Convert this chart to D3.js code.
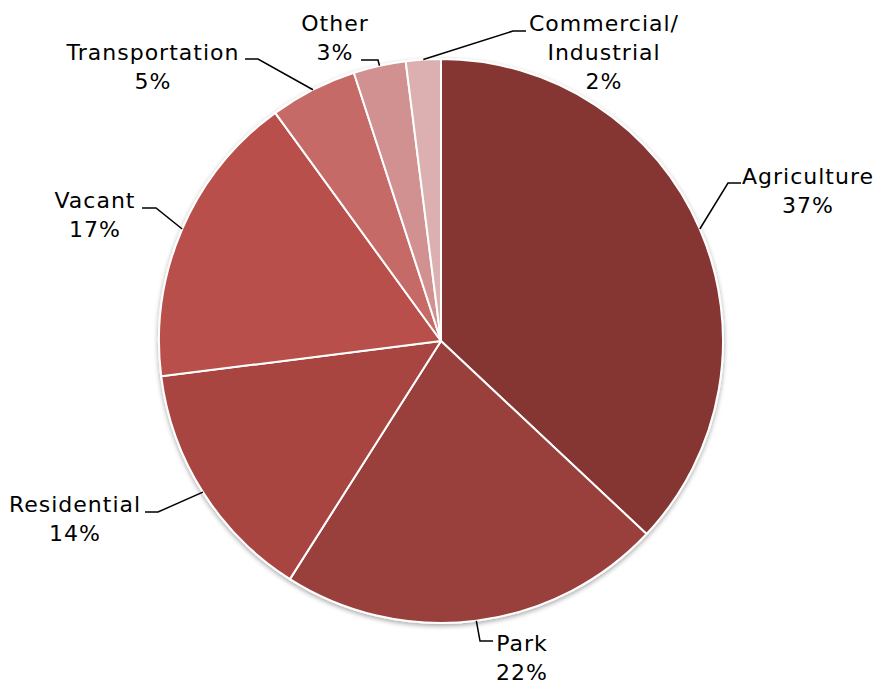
<!DOCTYPE html>
<html>
<head>
<meta charset="utf-8">
<script src="https://cdn.jsdelivr.net/npm/d3@7"></script>
<style>
  html, body { margin: 0; padding: 0; background: #fff; }
  svg { display: block; }
  text { font-family: "DejaVu Sans", Verdana, sans-serif; font-size: 22px; letter-spacing: 1px; fill: #000; }
</style>
</head>
<body>
<svg id="chart" width="877" height="685"></svg>
<script>
// Land use shares (percent), clockwise from 12 o'clock
const categories = ["Agriculture", "Park", "Residential", "Vacant", "Transportation", "Other", "Commercial/\nIndustrial"];
const shares = [37, 22, 14, 17, 5, 3, 2];
const colors = ["#853533", "#993f3c", "#a84441", "#b94f4c", "#c66a67", "#d19190", "#dcb0b0"];

// Label placement: text centre x, first baseline y, leader elbow and leader end
const labelLayout = [
  { tx: 808, ty: 184, elbow: [728, 183], end: [741, 183] },
  { tx: 522, ty: 651, elbow: [480, 641], end: [493, 641] },
  { tx: 75,  ty: 512, elbow: [158, 512], end: [145, 512] },
  { tx: 95,  ty: 208, elbow: [156, 208], end: [142, 208] },
  { tx: 153, ty: 60,  elbow: [258, 59],  end: [245, 59] },
  { tx: 335, ty: 31,  elbow: [378, 60],  end: [361, 60] },
  { tx: 604, ty: 31,  elbow: [513, 31],  end: [526, 31] }
];

const svg = d3.select("#chart");
const cx = 441, cy = 341, r = 282;

const defs = svg.append("defs");
const shadow = defs.append("filter").attr("id", "soft").attr("x", "-10%").attr("y", "-10%").attr("width", "120%").attr("height", "120%");
shadow.append("feGaussianBlur").attr("in", "SourceAlpha").attr("stdDeviation", 2.5);
shadow.append("feOffset").attr("dx", 0).attr("dy", 1.5).attr("result", "b");
shadow.append("feComponentTransfer").append("feFuncA").attr("type", "linear").attr("slope", 0.35);
const merge = shadow.append("feMerge");
merge.append("feMergeNode");
merge.append("feMergeNode").attr("in", "SourceGraphic");

const data = categories.map((c, i) => ({ name: c, value: shares[i], color: colors[i], layout: labelLayout[i] }));

const pie = d3.pie().sort(null).value(d => d.value).startAngle(0).endAngle(2 * Math.PI);
const arcs = pie(data);
const arc = d3.arc().innerRadius(0).outerRadius(r);

const g = svg.append("g").attr("transform", `translate(${cx},${cy})`);

g.append("g").attr("filter", "url(#soft)")
  .selectAll("path")
  .data(arcs)
  .join("path")
  .attr("d", arc)
  .attr("fill", d => d.data.color)
  .attr("stroke", "#fff")
  .attr("stroke-width", 2)
  .attr("stroke-linejoin", "round");

// Leader lines start on the rim at each slice's mid angle
const line = d3.line();
svg.append("g").selectAll("path")
  .data(arcs)
  .join("path")
  .attr("d", d => {
    const a = (d.startAngle + d.endAngle) / 2;
    const p0 = [cx + r * Math.sin(a), cy - r * Math.cos(a)];
    return line([p0, d.data.layout.elbow, d.data.layout.end]);
  })
  .attr("fill", "none")
  .attr("stroke", "#000")
  .attr("stroke-width", 1.5);

const labels = svg.append("g").selectAll("text")
  .data(arcs)
  .join("text")
  .attr("text-anchor", "middle")
  .attr("x", d => d.data.layout.tx)
  .attr("y", d => d.data.layout.ty);

labels.each(function(d) {
  const lines = d.data.name.split("\n").concat([d.data.value + "%"]);
  d3.select(this).selectAll("tspan")
    .data(lines)
    .join("tspan")
    .attr("x", d.data.layout.tx)
    .attr("dy", (t, i) => i === 0 ? 0 : 29)
    .text(t => t);
});
</script>
</body>
</html>
